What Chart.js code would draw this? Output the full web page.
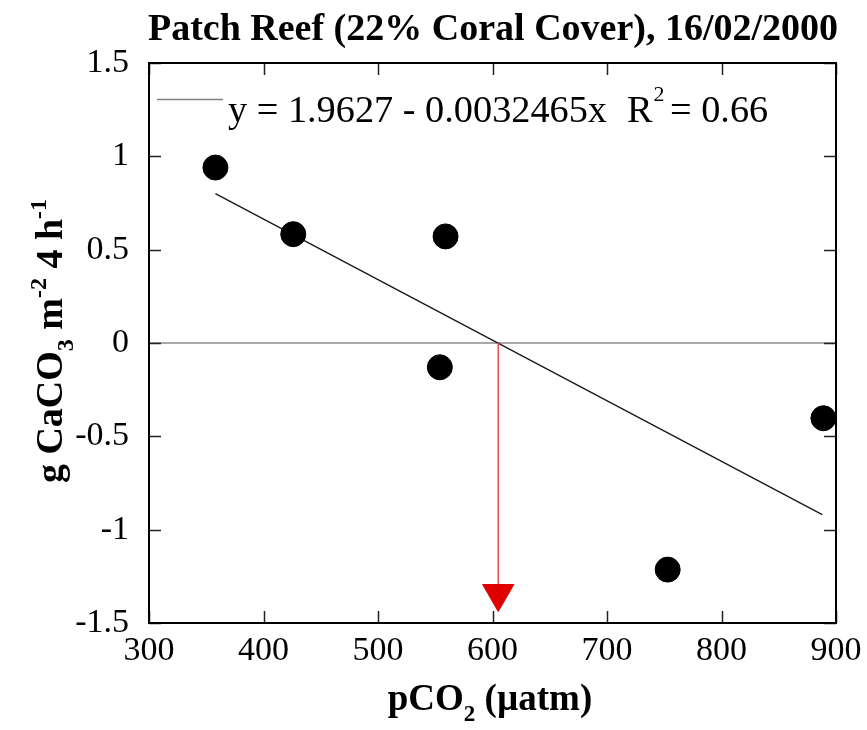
<!DOCTYPE html>
<html><head><meta charset="utf-8">
<script src="https://cdn.jsdelivr.net/npm/chart.js@4/dist/chart.umd.min.js"></script>
<style>html,body{margin:0;padding:0;background:#fff;} canvas{display:block;}</style>
</head><body>
<canvas id="c" width="867" height="730"></canvas>
<script>
// ---- data ----
const pco2 = [358, 426, 554, 559, 753, 889];
const calcification = [0.94, 0.583, -0.13, 0.571, -1.214, -0.403];
const fitX = [358, 888];
const fitY = [0.80, -0.92];
const zeroLineX = [300, 900];
const zeroLineY = [0, 0];
const arrowX = [605, 605];
const arrowY = [0, -1.342];
const xTickValues = [300, 400, 500, 600, 700, 800, 900];
const xTickLabels = ['300', '400', '500', '600', '700', '800', '900'];
const yTickValues = [-1.5, -1, -0.5, 0, 0.5, 1, 1.5];
const yTickLabels = ['-1.5', '-1', '-0.5', '0', '0.5', '1', '1.5'];
const titleText = 'Patch Reef (22% Coral Cover), 16/02/2000';
const fitLabel = 'y = 1.9627 - 0.0032465x';
const r2Parts = ['R', '2', '= 0.66'];
const xTitleParts = [['pCO', 0], ['2', -1], [' (\u00b5atm)', 0]];
const yTitleParts = [['g CaCO', 0], ['3', -1], [' m', 0], ['-2', 1], [' 4 h', 0], ['-1', 1]];

const SERIF = "'Liberation Serif', 'Times New Roman', serif";

function drawRich(ctx, parts, size, bold, cx, baseY) {
  const w = bold ? 'bold ' : '';
  const small = Math.round(size * 0.62);
  let total = 0;
  const widths = parts.map(([t, k]) => {
    ctx.font = w + (k ? small : size) + 'px ' + SERIF;
    const m = ctx.measureText(t).width;
    total += m;
    return m;
  });
  let x = cx - total / 2;
  parts.forEach(([t, k], i) => {
    ctx.font = w + (k ? small : size) + 'px ' + SERIF;
    const dy = k === -1 ? size * 0.3 : (k === 1 ? -size * 0.42 : 0);
    ctx.fillText(t, x, baseY + dy);
    x += widths[i];
  });
}

const decor = {
  id: 'decor',
  afterDraw(chart) {
    const ctx = chart.ctx;
    const a = chart.chartArea;
    const xs = chart.scales.x, ys = chart.scales.y;
    ctx.save();
    // inward ticks
    ctx.strokeStyle = '#222';
    ctx.lineWidth = 1.5;
    const tl = 12;
    ctx.beginPath();
    xTickValues.forEach(v => {
      const px = Math.round(xs.getPixelForValue(v)) + 0.5;
      ctx.moveTo(px, a.bottom); ctx.lineTo(px, a.bottom - tl);
      ctx.moveTo(px, a.top); ctx.lineTo(px, a.top + tl);
    });
    yTickValues.forEach(v => {
      const py = Math.round(ys.getPixelForValue(v)) + 0.5;
      ctx.moveTo(a.left, py); ctx.lineTo(a.left + tl, py);
      ctx.moveTo(a.right, py); ctx.lineTo(a.right - tl, py);
    });
    ctx.stroke();
    // frame
    ctx.strokeStyle = '#000';
    ctx.lineWidth = 2;
    ctx.strokeRect(a.left, a.top, a.right - a.left, a.bottom - a.top);

    ctx.fillStyle = '#000';
    ctx.textBaseline = 'alphabetic';
    ctx.textAlign = 'left';
    // title (bold), fitted to reference width
    ctx.font = 'bold 36px ' + SERIF;
    let tw = ctx.measureText(titleText).width;
    const tsize = 36 * 690 / tw;
    ctx.font = 'bold ' + tsize.toFixed(1) + 'px ' + SERIF;
    tw = ctx.measureText(titleText).width;
    ctx.fillText(titleText, 493 - tw / 2, 40);

    // legend
    ctx.strokeStyle = '#808080';
    ctx.lineWidth = 1.5;
    ctx.beginPath();
    ctx.moveTo(157, 99.5); ctx.lineTo(223, 99.5);
    ctx.stroke();
    ctx.font = '36px ' + SERIF;
    let lw = ctx.measureText(fitLabel).width;
    const lsize = 36 * 379 / lw;
    ctx.font = lsize.toFixed(1) + 'px ' + SERIF;
    ctx.fillText(fitLabel, 228, 122);
    ctx.fillText(r2Parts[0], 627, 122);
    const rw = ctx.measureText(r2Parts[0]).width;
    ctx.font = '22px ' + SERIF;
    ctx.fillText(r2Parts[1], 627 + rw + 1, 101);
    ctx.font = lsize.toFixed(1) + 'px ' + SERIF;
    ctx.fillText(r2Parts[2], 670, 122);

    // x axis title
    drawRich(ctx, xTitleParts, 37, true, 490, 710);
    // y axis title
    ctx.translate(62, 341);
    ctx.rotate(-Math.PI / 2);
    drawRich(ctx, yTitleParts, 38, true, 0, 0);
    ctx.restore();
  }
};

const toPts = (xa, ya) => xa.map((x, i) => ({ x: x, y: ya[i] }));
const noPad = s => { s.paddingLeft = 0; s.paddingRight = 0; s.paddingTop = 0; s.paddingBottom = 0; };

new Chart(document.getElementById('c').getContext('2d'), {
  type: 'scatter',
  data: {
    datasets: [
      { data: toPts(pco2, calcification), pointRadius: 12.5, pointHoverRadius: 12.5,
        pointBackgroundColor: '#000', pointBorderColor: '#000', borderWidth: 1, order: 1 },
      { data: toPts(arrowX, arrowY), showLine: true, borderColor: '#f05050', borderWidth: 1.5,
        pointRadius: [0, 18], pointStyle: 'triangle', rotation: 180,
        pointBackgroundColor: '#e00000', pointBorderColor: '#e00000', pointBorderWidth: 1, order: 2 },
      { data: toPts(fitX, fitY), showLine: true, borderColor: '#1a1a1a', borderWidth: 1.4,
        pointRadius: 0, order: 3 },
      { data: toPts(zeroLineX, zeroLineY), showLine: true, borderColor: '#8c8c8c', borderWidth: 1.5,
        pointRadius: 0, order: 4 }
    ]
  },
  options: {
    responsive: false,
    animation: false,
    events: [],
    clip: false,
    layout: { autoPadding: false, padding: { left: 0, right: 31, top: 63, bottom: 0 } },
    plugins: { legend: { display: false }, tooltip: { enabled: false }, title: { display: false } },
    scales: {
      x: {
        type: 'linear', min: 300, max: 900,
        afterBuildTicks: s => { s.ticks = xTickValues.map(v => ({ value: v })); },
        afterFit: s => { s.height = 107; noPad(s); },
        grid: { display: false, drawTicks: false },
        border: { display: false },
        ticks: { padding: 8, color: '#000', maxRotation: 0, autoSkip: false,
          font: { family: SERIF, size: 34 },
          callback: (v, i) => xTickLabels[i] }
      },
      y: {
        type: 'linear', min: -1.5, max: 1.5,
        afterBuildTicks: s => { s.ticks = yTickValues.map(v => ({ value: v })); },
        afterFit: s => { s.width = 149; noPad(s); },
        grid: { display: false, drawTicks: false },
        border: { display: false },
        ticks: { padding: 20, color: '#000', autoSkip: false,
          font: { family: SERIF, size: 34 },
          callback: (v, i) => yTickLabels[i] }
      }
    }
  },
  plugins: [decor]
});
</script>
</body></html>
